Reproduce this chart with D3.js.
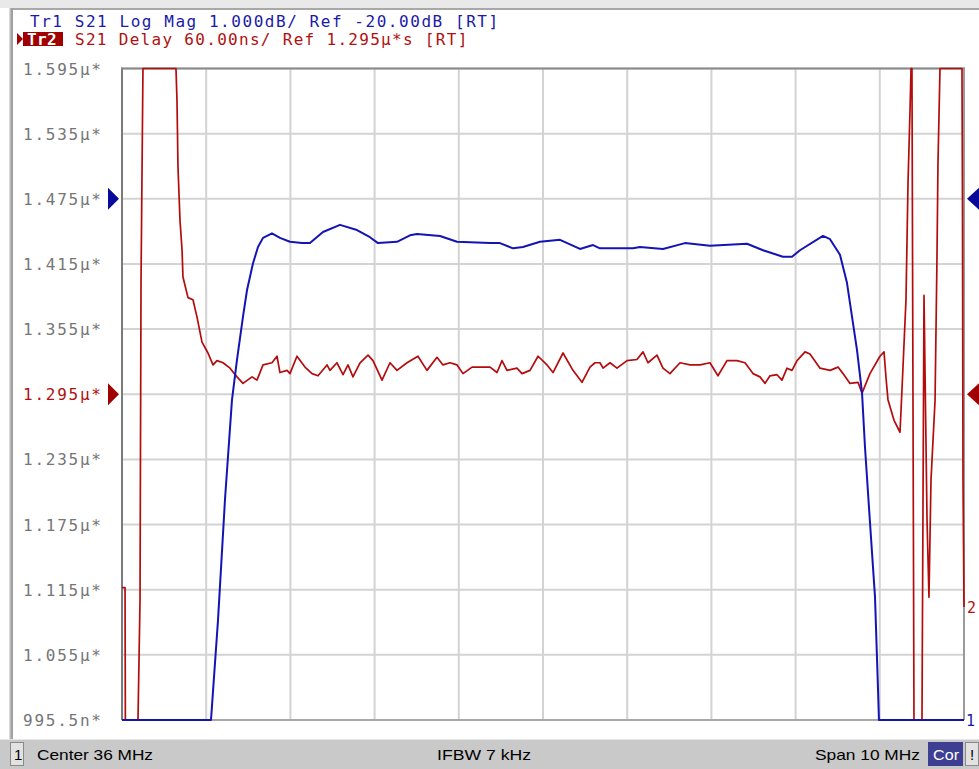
<!DOCTYPE html>
<html>
<head>
<meta charset="utf-8">
<script src="https://cdn.jsdelivr.net/npm/d3@7"></script>
<style>
  html, body { margin: 0; padding: 0; background: #fff; }
  svg { display: block; }
</style>
</head>
<body>
<svg id="chart" width="979" height="769"></svg>
<script>
// ---------------- DATA ----------------
// Trace 1: S21 Log Mag (dB) vs frequency (MHz)
const freqMag = [31.000, 32.057, 32.140, 32.223, 32.306, 32.366, 32.437, 32.485, 32.556, 32.615,
  32.675, 32.781, 32.876, 32.995, 33.138, 33.232, 33.387, 33.589, 33.791, 33.945,
  34.040, 34.266, 34.420, 34.504, 34.777, 34.979, 35.371, 35.489, 35.644, 35.762,
  35.964, 36.202, 36.439, 36.594, 36.677, 37.069, 37.152, 37.425, 37.686, 37.983,
  38.423, 38.613, 38.850, 38.957, 39.052, 39.325, 39.409, 39.527, 39.610, 39.729,
  39.789, 39.824, 39.884, 39.943, 39.979, 39.990, 41.000];
const magDb = [-29.0, -28.0, -26.47, -24.62, -23.09, -22.47, -21.81, -21.40, -20.99, -20.74,
  -20.60, -20.53, -20.60, -20.66, -20.68, -20.68, -20.51, -20.40, -20.48, -20.59,
  -20.68, -20.66, -20.56, -20.54, -20.57, -20.66, -20.68, -20.68, -20.76, -20.74,
  -20.66, -20.63, -20.77, -20.71, -20.76, -20.76, -20.74, -20.77, -20.68, -20.72,
  -20.69, -20.79, -20.89, -20.89, -20.79, -20.57, -20.62, -20.86, -21.29, -22.32,
  -22.98, -23.81, -24.98, -26.11, -27.54, -28.0, -29.0];

// Trace 2: S21 Group delay (µs) vs frequency (MHz)
const freqDelay = [31.000, 31.036, 31.040, 31.190, 31.214, 31.226, 31.249, 31.641, 31.653, 31.665,
  31.689, 31.713, 31.724, 31.784, 31.843, 31.891, 31.950, 32.021, 32.081, 32.128,
  32.200, 32.283, 32.366, 32.437, 32.544, 32.603, 32.675, 32.781, 32.841, 32.876,
  32.960, 32.995, 33.078, 33.173, 33.257, 33.328, 33.435, 33.470, 33.553, 33.625,
  33.684, 33.743, 33.827, 33.922, 33.981, 34.088, 34.183, 34.266, 34.385, 34.515,
  34.622, 34.741, 34.812, 34.895, 34.979, 35.050, 35.157, 35.252, 35.371, 35.454,
  35.513, 35.572, 35.691, 35.751, 35.846, 35.941, 36.048, 36.119, 36.238, 36.356,
  36.463, 36.558, 36.618, 36.677, 36.713, 36.796, 36.879, 36.998, 37.116, 37.188,
  37.247, 37.354, 37.425, 37.508, 37.627, 37.746, 37.865, 37.983, 38.078, 38.185,
  38.304, 38.399, 38.494, 38.577, 38.637, 38.696, 38.779, 38.838, 38.898, 38.957,
  39.017, 39.112, 39.171, 39.290, 39.409, 39.504, 39.563, 39.646, 39.741, 39.789,
  39.883, 40.002, 40.050, 40.074, 40.097, 40.169, 40.240, 40.264, 40.311, 40.335,
  40.359, 40.371, 40.382, 40.394, 40.406, 40.501, 40.525, 40.561, 40.584, 40.608,
  40.656, 40.679, 40.691, 40.715, 40.976, 40.982, 40.988, 41.000];
const delayUs = [1.117, 1.117, 0.960, 0.960, 1.105, 1.400, 1.620, 1.620, 1.566, 1.504,
  1.455, 1.428, 1.403, 1.384, 1.382, 1.366, 1.343, 1.333, 1.322, 1.326,
  1.324, 1.319, 1.311, 1.305, 1.311, 1.308, 1.322, 1.324, 1.330, 1.315,
  1.317, 1.314, 1.330, 1.320, 1.314, 1.312, 1.322, 1.317, 1.324, 1.313,
  1.322, 1.311, 1.324, 1.331, 1.326, 1.308, 1.324, 1.317, 1.324, 1.330,
  1.317, 1.329, 1.322, 1.324, 1.322, 1.314, 1.320, 1.320, 1.320, 1.315,
  1.326, 1.317, 1.319, 1.314, 1.317, 1.330, 1.322, 1.315, 1.333, 1.317,
  1.306, 1.320, 1.324, 1.324, 1.319, 1.324, 1.319, 1.326, 1.327, 1.334,
  1.324, 1.331, 1.319, 1.314, 1.324, 1.322, 1.322, 1.324, 1.312, 1.326,
  1.326, 1.324, 1.314, 1.311, 1.305, 1.312, 1.313, 1.308, 1.319, 1.317,
  1.326, 1.334, 1.332, 1.319, 1.317, 1.320, 1.314, 1.305, 1.306, 1.296,
  1.314, 1.330, 1.334, 1.310, 1.290, 1.271, 1.260, 1.300, 1.382, 1.489,
  1.557, 1.620, 1.620, 1.294, 0.960, 0.960, 1.386, 1.179, 1.108, 1.216,
  1.289, 1.420, 1.508, 1.620, 1.620, 1.471, 1.219, 1.099];

// Axis / grid definitions
const freqTicks = [31, 32, 33, 34, 35, 36, 37, 38, 39, 40, 41];
const delayTicks = [1.595, 1.535, 1.475, 1.415, 1.355, 1.295, 1.235, 1.175, 1.115, 1.055, 0.995];
const delayTickLabels = ["1.595µ*", "1.535µ*", "1.475µ*", "1.415µ*", "1.355µ*", "1.295µ*",
  "1.235µ*", "1.175µ*", "1.115µ*", "1.055µ*", "995.5n*"];
const magRefDb = -20;
const delayRefUs = 1.295;

const header1 = "Tr1 S21 Log Mag 1.000dB/ Ref -20.00dB [RT]";
const header2Tag = "Tr2";
const header2 = "S21 Delay 60.00ns/ Ref 1.295µ*s [RT]";
const statusLeft = "Center 36 MHz";
const statusMid = "IFBW 7 kHz";
const statusRight = "Span 10 MHz";

// ---------------- DRAW ----------------
const svg = d3.select("#chart");
const L = 122, R = 964, T = 68.5, B = 720;
const BLUE = "#1414b4", RED = "#b40c0c", LABEL_GRAY = "#767676";
const monoFont = "'DejaVu Sans Mono', monospace";

const x = d3.scaleLinear().domain([31, 41]).range([L, R]);
const yDelay = d3.scaleLinear().domain([0.995, 1.595]).range([B, T]).clamp(true);
const yMag = d3.scaleLinear().domain([-28, -18]).range([B, T]).clamp(true);

// window chrome
svg.append("rect").attr("x", 0).attr("y", 0).attr("width", 979).attr("height", 8).attr("fill", "#e9e9e9");
svg.append("rect").attr("x", 9).attr("y", 8).attr("width", 970).attr("height", 2).attr("fill", "#a8a8a8");
svg.append("rect").attr("x", 9).attr("y", 8).attr("width", 4).attr("height", 731).attr("fill", "#a0a0a0");
svg.append("rect").attr("x", 9).attr("y", 8).attr("width", 1.5).attr("height", 731).attr("fill", "#d8d8d8");

// header
svg.append("text").attr("x", 30).attr("y", 27)
  .attr("font-family", monoFont).attr("font-size", 16).attr("letter-spacing", 1.55)
  .attr("fill", "#1a1aa8").text(header1);
svg.append("path").attr("d", "M17,33 L23,39 L17,45 Z").attr("fill", "#a00000");
svg.append("rect").attr("x", 23).attr("y", 32).attr("width", 40).attr("height", 14).attr("fill", "#a00000");
svg.append("text").attr("x", 27).attr("y", 44.5)
  .attr("font-family", monoFont).attr("font-size", 16).attr("font-weight", "bold").attr("letter-spacing", 0.4)
  .attr("fill", "#ffffff").text(header2Tag);
svg.append("text").attr("x", 75).attr("y", 44.5)
  .attr("font-family", monoFont).attr("font-size", 16).attr("letter-spacing", 1.3)
  .attr("fill", "#b01010").text(header2);

// grid
const g = svg.append("g");
g.selectAll("line.v").data(freqTicks).enter().append("line")
  .attr("x1", d => x(d)).attr("x2", d => x(d)).attr("y1", T).attr("y2", B)
  .attr("stroke", "#d3d3d3").attr("stroke-width", 2);
g.selectAll("line.h").data(delayTicks).enter().append("line")
  .attr("x1", L).attr("x2", R).attr("y1", d => yDelay(d)).attr("y2", d => yDelay(d))
  .attr("stroke", "#d3d3d3").attr("stroke-width", 2);
// frame
g.append("line").attr("x1", L).attr("x2", L).attr("y1", T - 1).attr("y2", B).attr("stroke", "#7a7a7a").attr("stroke-width", 2);
g.append("line").attr("x1", L - 1).attr("x2", R + 1).attr("y1", T).attr("y2", T).attr("stroke", "#8a8a8a").attr("stroke-width", 2);
g.append("line").attr("x1", R).attr("x2", R).attr("y1", T - 1).attr("y2", B).attr("stroke", "#9a9a9a").attr("stroke-width", 2);
g.append("line").attr("x1", L).attr("x2", R).attr("y1", B).attr("y2", B).attr("stroke", "#9a9a9a").attr("stroke-width", 1.5);

// y tick labels
svg.selectAll("text.ytick").data(delayTicks).enter().append("text")
  .attr("x", 23).attr("y", d => yDelay(d) + 6)
  .attr("font-family", monoFont).attr("font-size", 16).attr("letter-spacing", 1.75)
  .attr("fill", d => Math.abs(d - delayRefUs) < 1e-9 ? "#b01010" : LABEL_GRAY)
  .text((d, i) => delayTickLabels[i]);

// reference markers
const yRefMag = yMag(magRefDb), yRefDelay = yDelay(delayRefUs);
svg.append("path").attr("d", `M108,${yRefMag - 11} L119,${yRefMag} L108,${yRefMag + 11} Z`).attr("fill", "#0a0a9a");
svg.append("path").attr("d", `M108,${yRefDelay - 11} L119,${yRefDelay} L108,${yRefDelay + 11} Z`).attr("fill", "#a00000");
svg.append("path").attr("d", `M979,${yRefMag - 11} L967,${yRefMag} L979,${yRefMag + 11} Z`).attr("fill", "#0a0a9a");
svg.append("path").attr("d", `M979,${yRefDelay - 11} L967,${yRefDelay} L979,${yRefDelay + 11} Z`).attr("fill", "#a00000");

// traces
const lineDelay = d3.line().x((d, i) => x(freqDelay[i])).y(d => yDelay(d));
const lineMag = d3.line().x((d, i) => x(freqMag[i])).y(d => yMag(d));
svg.append("path").datum(delayUs).attr("d", lineDelay)
  .attr("fill", "none").attr("stroke", RED).attr("stroke-width", 1.7).attr("stroke-linejoin", "round");
svg.append("path").datum(magDb).attr("d", lineMag)
  .attr("fill", "none").attr("stroke", BLUE).attr("stroke-width", 2).attr("stroke-linejoin", "round");

// trace end labels
svg.append("text").attr("x", 967).attr("y", yDelay(delayUs[delayUs.length - 1]) + 6)
  .attr("font-family", monoFont).attr("font-size", 15).attr("fill", "#b01010").text("2");
svg.append("text").attr("x", 966).attr("y", yMag(magDb[magDb.length - 1]) + 6)
  .attr("font-family", monoFont).attr("font-size", 15).attr("fill", "#1a1aa8").text("1");

// status bar
svg.append("rect").attr("x", 0).attr("y", 739).attr("width", 979).attr("height", 30).attr("fill", "#c9c9c9");
svg.append("rect").attr("x", 0).attr("y", 739).attr("width", 979).attr("height", 1).attr("fill", "#e6e6e6");
svg.append("rect").attr("x", 10.5).attr("y", 742.5).attr("width", 13).attr("height", 23).attr("fill", "#e2e2e2").attr("stroke", "#8a8a8a");
const sFont = "'Liberation Sans', Arial, sans-serif";
svg.append("text").attr("x", 14).attr("y", 760).attr("font-family", sFont).attr("font-size", 15).attr("fill", "#000").text("1");
svg.append("text").attr("x", 37).attr("y", 760).attr("font-family", sFont).attr("font-size", 15)
  .attr("textLength", 116).attr("lengthAdjust", "spacingAndGlyphs").attr("fill", "#000").text(statusLeft);
svg.append("text").attr("x", 437).attr("y", 760).attr("font-family", sFont).attr("font-size", 15)
  .attr("textLength", 94).attr("lengthAdjust", "spacingAndGlyphs").attr("fill", "#000").text(statusMid);
svg.append("text").attr("x", 815).attr("y", 760).attr("font-family", sFont).attr("font-size", 15)
  .attr("textLength", 105).attr("lengthAdjust", "spacingAndGlyphs").attr("fill", "#000").text(statusRight);
svg.append("rect").attr("x", 928).attr("y", 742).attr("width", 35).attr("height", 24).attr("fill", "#3e3e92");
svg.append("text").attr("x", 933).attr("y", 760).attr("font-family", sFont).attr("font-size", 15)
  .attr("textLength", 26).attr("lengthAdjust", "spacingAndGlyphs").attr("fill", "#fff").text("Cor");
svg.append("rect").attr("x", 965.5).attr("y", 742.5).attr("width", 13).attr("height", 23).attr("fill", "#e2e2e2").attr("stroke", "#8a8a8a");
svg.append("text").attr("x", 970).attr("y", 760).attr("font-family", sFont).attr("font-size", 15).attr("fill", "#000").text("!");
</script>
</body>
</html>
